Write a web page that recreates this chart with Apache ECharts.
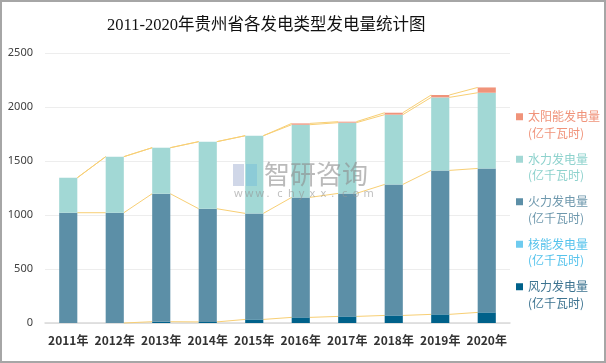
<!DOCTYPE html>
<html><head><meta charset="utf-8">
<script src="https://cdn.jsdelivr.net/npm/echarts@6/dist/echarts.min.js"></script>
<style>html,body{margin:0;padding:0;background:#fff}#c{width:606px;height:363px}</style>
</head><body><div id="c"></div>
<script>
const years = ['2011年','2012年','2013年','2014年','2015年','2016年','2017年','2018年','2019年','2020年'];
const wind    = [0, 0, 12, 10, 33, 52, 61, 70, 80, 98];
const nuclear = [0, 0, 0, 0, 0, 0, 0, 0, 0, 0];
const thermal = [1021, 1021, 1185, 1048, 982, 1111, 1139, 1213, 1333, 1333];
const hydro   = [324, 519, 426, 621, 719, 673, 655, 646, 676, 701];
const solar   = [0, 0, 0, 0, 0, 12, 9, 18, 22, 49];
const yTicks  = [0, 500, 1000, 1500, 2000, 2500];

const names = {
  solar: '太阳能发电量\n(亿千瓦时)',
  hydro: '水力发电量\n(亿千瓦时)',
  thermal: '火力发电量\n(亿千瓦时)',
  nuclear: '核能发电量\n(亿千瓦时)',
  wind: '风力发电量\n(亿千瓦时)'
};
const colors = {solar:'#F0937A', hydro:'#A2D8D5', thermal:'#5C8FA7', nuclear:'#6ECBEF', wind:'#00618A'};
const textColors = {solar:'#F0937A', hydro:'#8ED2CD', thermal:'#6E98AD', nuclear:'#56C3EC', wind:'#3C7390'};
const BAR_RATIO = 0.39;
const n = years.length;

const order = ['wind','nuclear','thermal','hydro','solar'];
const dataMap = {wind, nuclear, thermal, hydro, solar};

const barSeries = order.map(k => ({
  name: names[k], type: 'bar', stack: 'all', barWidth: (BAR_RATIO*100)+'%',
  itemStyle: {color: colors[k]}, data: dataMap[k], z: 2
}));

// cumulative tops
const cums = [];
let run = new Array(n).fill(0);
order.forEach(k => { run = run.map((v,i)=>v+dataMap[k][i]); cums.push(run.slice()); });

function seriesLine(cum){
  return {
    type: 'custom', silent: true, z: 1,
    data: cum.map((v,i)=>[i, v, i<n-1 ? cum[i+1] : v]),
    encode: {x: 0, y: 1},
    renderItem(params, api){
      const i = api.value(0);
      if (i >= n-1) return null;
      const a = api.value(1), b = api.value(2);
      if (a === 0 && b === 0) return null;
      const p0 = api.coord([i, a]);
      const p1 = api.coord([i+1, b]);
      const hw = api.size([1,0])[0]*BAR_RATIO/2;
      return {type:'line', shape:{x1:p0[0]+hw, y1:p0[1], x2:p1[0]-hw, y2:p1[1]},
        style:{stroke:'#F8CF74', lineWidth:1}};
    }
  };
}
const lineSeries = cums.filter((c,idx)=>order[idx]!=='nuclear').map(seriesLine);

const wm = 'www.chyxx.com'.split('');
const wmText = wm.map((ch,k)=>({type:'text', left: 234 + k*10.8, top: 188,
  style:{text: ch, fontSize: 11, fill:'rgba(150,150,150,0.6)', fontFamily:'Noto Sans'}}));

const chart = echarts.init(document.getElementById('c'));
chart.setOption({
  animation: false,
  backgroundColor: '#fff',
  title: {text: '2011-2020年贵州省各发电类型发电量统计图', left: 102, top: 12,
    textStyle: {fontSize: 16.5, fontWeight: 'normal', color: '#111', fontFamily: '"Liberation Serif","Noto Sans CJK SC"'}},
  grid: {left: 45, right: 96, top: 53, bottom: 40},
  legend: {
    orient: 'vertical', left: 516, top: 92, padding: 0, itemGap: -7, align: 'left',
    itemWidth: 7, itemHeight: 7, icon: 'rect',
    formatter: name => '\n' + name,
    data: ['solar','hydro','thermal','nuclear','wind'].map(k => ({name: names[k], textStyle: {color: textColors[k]}})),
    textStyle: {fontSize: 12, lineHeight: 16.5, fontFamily: '"Noto Sans CJK SC"'}
  },
  xAxis: {type: 'category', data: years,
    axisLine: {lineStyle: {color: '#D9D9D9', width: 1.5}}, axisTick: {show: false},
    axisLabel: {interval: 0, fontSize: 12, fontWeight: 'bold', color: '#333', margin: 11, fontFamily: '"Noto Sans CJK SC"'}},
  yAxis: {type: 'value', min: yTicks[0], max: yTicks[yTicks.length-1], interval: 500,
    axisLine: {show: false}, axisTick: {show: false},
    splitLine: {lineStyle: {color: '#EDEDED'}},
    axisLabel: {fontSize: 11, color: '#404040', margin: 12, fontFamily: '"Noto Sans"', formatter: v => String(v)}},
  graphic: [
    {type:'rect', shape:{x:1, y:1, width:604, height:361}, style:{fill:'none', stroke:'#A6A6A6', lineWidth:2}, z: 100},
    {type:'rect', shape:{x:233, y:164, width:11, height:22}, style:{fill:'rgba(120,140,190,0.35)'}, z: 50},
    {type:'rect', shape:{x:246, y:164, width:11, height:22}, style:{fill:'rgba(100,180,220,0.35)'}, z: 50},
    {type:'text', left: 264, top: 161, style:{text:'智研咨询', fontSize: 26, fill:'rgba(140,140,140,0.6)', fontFamily:'"Noto Sans CJK SC"'}, z: 50},
    ...wmText.map(t=>Object.assign(t,{z:50}))
  ],
  series: [...barSeries, ...lineSeries]
});
</script></body></html>
